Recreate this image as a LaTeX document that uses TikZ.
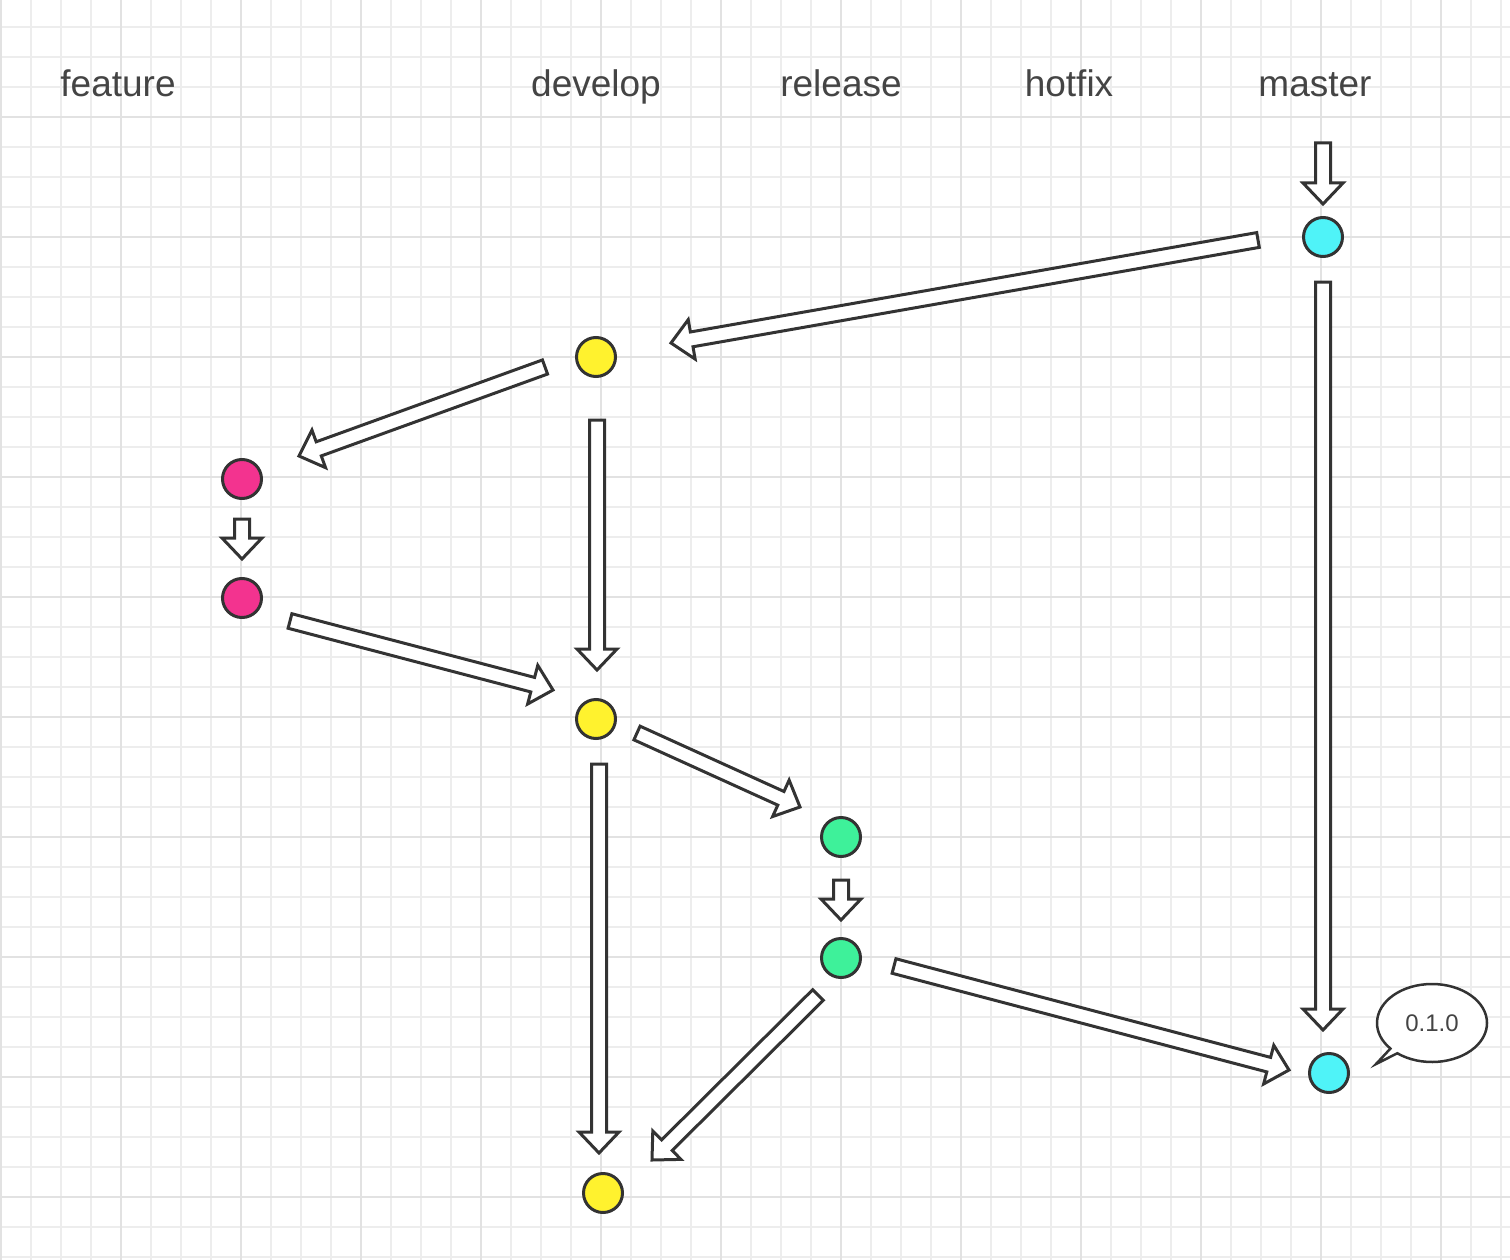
\documentclass[tikz,border=0pt]{standalone}
\usepackage{fontspec}
\setmainfont{Liberation Sans}
\usepackage{tikz}
\usetikzlibrary{calc,shapes.callouts}
\definecolor{ink}{HTML}{333333}
\definecolor{textgray}{HTML}{444444}
\definecolor{gridminor}{HTML}{EDEDED}
\definecolor{gridmajor}{HTML}{E2E2E2}
\definecolor{mastercol}{HTML}{4FF3F8}
\definecolor{developcol}{HTML}{FFF22E}
\definecolor{featurecol}{HTML}{F3338F}
\definecolor{releasecol}{HTML}{3EF19A}

\begin{document}
\begin{tikzpicture}
[x=1pt,y=-1pt,
 dot/.style={circle,draw=ink,line width=3pt,inner sep=0pt,minimum size=39pt},
 masternode/.style={dot,fill=mastercol},
 developnode/.style={dot,fill=developcol},
 featurenode/.style={dot,fill=featurecol},
 releasenode/.style={dot,fill=releasecol},
 branch/.style={anchor=base,text=textgray,font=\fontsize{37}{44}\selectfont},
 flow/.style 2 args={draw=ink,fill=white,line width=3pt,line join=miter,to path={
   let \p1=($(\tikztostart)+#1$), \p2=($(\tikztotarget)+#2$), \p3=($(\p2)!21pt!(\p1)$) in
   ($(\p1)!7.5pt!90:(\p2)$) -- ($(\p3)!7.5pt!90:(\p2)$) -- ($(\p3)!20pt!90:(\p2)$) -- (\p2)
   -- ($(\p3)!20pt!-90:(\p2)$) -- ($(\p3)!7.5pt!-90:(\p2)$) -- ($(\p1)!7.5pt!-90:(\p2)$) -- cycle}}]
\useasboundingbox (0,0) rectangle (1510,1260);
\fill[white] (0,0) rectangle (1510,1260);
% grid
\foreach \gx in {1,31,...,1501} \draw[gridminor,line width=1.5pt] (\gx,0) -- (\gx,1260);
\foreach \gy in {27,57,...,1257} \draw[gridminor,line width=1.5pt] (0,\gy) -- (1510,\gy);
\foreach \gx in {1,121,...,1441} \draw[gridmajor,line width=2pt] (\gx,0) -- (\gx,1260);
\foreach \gy in {117,237,...,1197} \draw[gridmajor,line width=2pt] (0,\gy) -- (1510,\gy);
% branch names
\node[branch] (featurehead) at (118,97) {feature};
\node[branch] (develophead) at (596,97) {develop};
\node[branch] (releasehead) at (841,97) {release};
\node[branch] (hotfixhead)  at (1069,97) {hotfix};
\node[branch] (masterhead)  at (1315,97) {master};
% commits
\node[masternode]  (master1)  at (1323,237) {};
\node[developnode] (develop1) at (596,357) {};
\node[featurenode] (feature1) at (242,479) {};
\node[featurenode] (feature2) at (242,598) {};
\node[developnode] (develop2) at (596,719) {};
\node[releasenode] (release1) at (841,837) {};
\node[releasenode] (release2) at (841,958) {};
\node[masternode]  (master2)  at (1329,1073) {};
\node[developnode] (develop3) at (603,1193) {};
\coordinate (mastertop) at (1323,143);
\node[ellipse callout,draw=ink,fill=white,line width=2.5pt,minimum width=110pt,minimum height=78pt,
      callout absolute pointer={(1376,1064)},callout pointer arc=10,
      text=textgray,font=\fontsize{24}{28}\selectfont] (tag) at (1432,1023) {0.1.0};
\path (mastertop) edge[flow={(0,0)}{(0,-33)}] (master1)
      (master1)  edge[flow={(-65,3)}{(75,-14)}] (develop1)
                 edge[flow={(0,45)}{(-6,-43)}] (master2)
      (develop1) edge[flow={(-51,10)}{(57,-23)}] (feature1)
                 edge[flow={(1,63)}{(1,-49)}] (develop2)
      (feature1) edge[flow={(0,40)}{(0,-39)}] (feature2)
      (feature2) edge[flow={(48,23)}{(-43,-29)}] (develop2)
      (develop2) edge[flow={(41,14)}{(-41,-30)}] (release1)
                 edge[flow={(3,45)}{(-4,-40)}] (develop3)
      (release1) edge[flow={(0,43)}{(0,-38)}] (release2)
      (release2) edge[flow={(53,8)}{(-40,-3)}] (master2)
                 edge[flow={(-23,37)}{(49,-33)}] (develop3);
\end{tikzpicture}
\end{document}
